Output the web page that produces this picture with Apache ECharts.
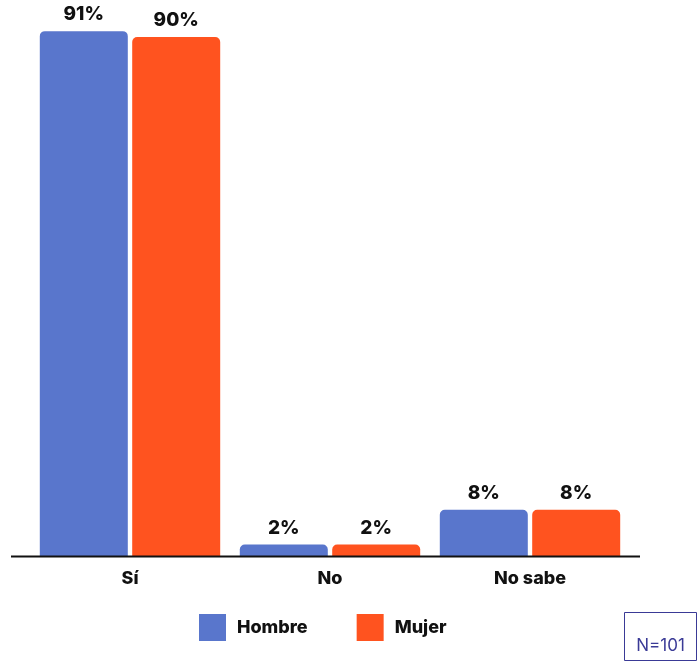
<!DOCTYPE html>
<html>
<head>
<meta charset="utf-8">
<script src="https://cdn.jsdelivr.net/npm/echarts@6/dist/echarts.min.js"></script>
<style>
  html, body { margin: 0; padding: 0; background: #fff; }
  #chart { width: 697px; height: 661px; }
</style>
</head>
<body>
<div id="chart"></div>
<script>
// Respuestas por sexo
const categories = ['Sí', 'No', 'No sabe'];
const hombre = [91, 2, 8];
const mujer = [90, 2, 8];
const seriesNames = ['Hombre', 'Mujer'];
const sampleNote = 'N=101';

const FONT = 'Inter, Roboto, sans-serif';
const BLUE = '#5976CC';
const ORANGE = '#FF531F';

const chart = echarts.init(document.getElementById('chart'));

function barSeries(name, data, color) {
  return {
    name: name,
    type: 'bar',
    data: data,
    barWidth: 88,
    barGap: '5%',
    itemStyle: { color: color, borderRadius: [5, 5, 0, 0] },
    label: {
      show: true,
      position: 'top',
      distance: 7,
      formatter: '{c}%',
      color: '#111',
      fontFamily: FONT,
      fontWeight: 800,
      fontSize: 19
    }
  };
}

chart.setOption({
  animation: false,
  grid: { left: 30, right: 67, top: 0, bottom: 105 },
  legend: {
    bottom: 15,
    left: 194,
    itemWidth: 27,
    itemHeight: 27,
    itemGap: 49,
    icon: 'rect',
    textStyle: { fontFamily: FONT, fontWeight: 800, fontSize: 18, color: '#111', padding: [0, 0, 0, 6] },
    data: seriesNames
  },
  xAxis: {
    type: 'category',
    data: categories,
    axisLine: { show: false },
    axisTick: { show: false },
    axisLabel: { margin: 14, fontFamily: FONT, fontWeight: 800, fontSize: 18, color: '#111' }
  },
  yAxis: {
    type: 'value',
    min: 0,
    max: 96.4,
    show: false
  },
  series: [
    barSeries(seriesNames[0], hombre, BLUE),
    barSeries(seriesNames[1], mujer, ORANGE)
  ],
  graphic: [
    {
      type: 'line',
      shape: { x1: 11, y1: 556.5, x2: 640, y2: 556.5 },
      style: { stroke: '#111', lineWidth: 2 },
      z: 10
    },
    {
      type: 'group',
      right: 0,
      bottom: 0,
      children: [
        {
          type: 'rect',
          shape: { x: 0, y: 0, width: 72, height: 48 },
          style: { fill: '#fff', stroke: '#3A3A96', lineWidth: 1 }
        },
        {
          type: 'text',
          x: 36,
          y: 33,
          style: {
            text: sampleNote,
            fill: '#3A3A96',
            font: '17px ' + FONT,
            textAlign: 'center',
            textVerticalAlign: 'middle'
          }
        }
      ]
    }
  ]
});
</script>
</body>
</html>
